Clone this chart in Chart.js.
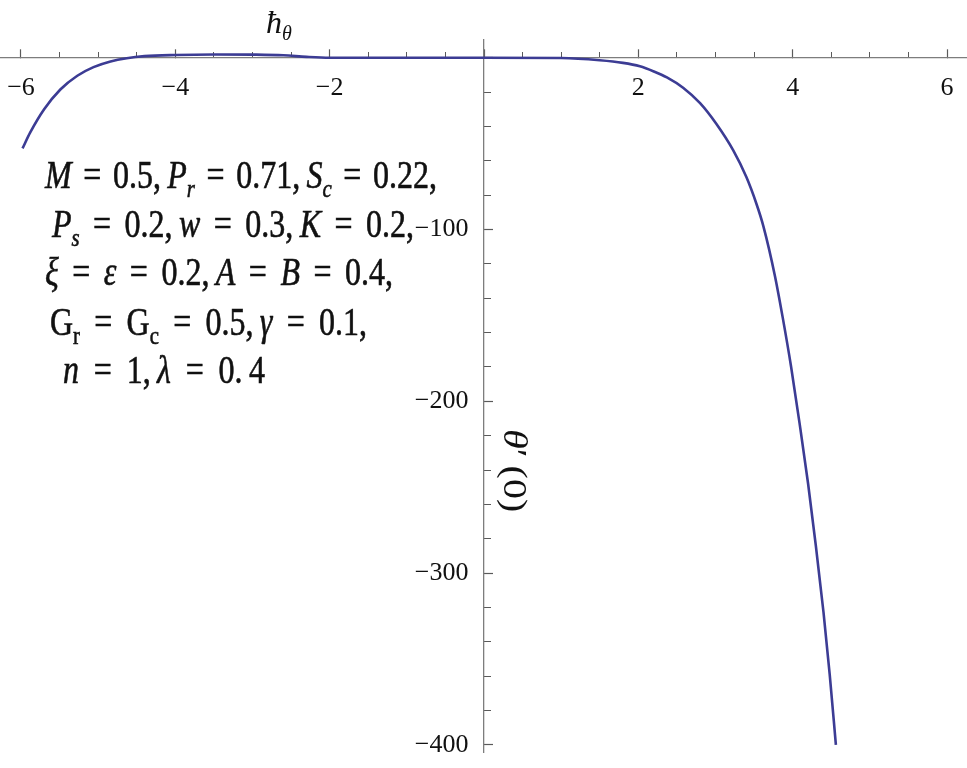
<!DOCTYPE html>
<html>
<head>
<meta charset="utf-8">
<title>θ′(0) against ħθ</title>
<script src="https://cdn.jsdelivr.net/npm/chart.js@4.4.1/dist/chart.umd.min.js"></script>
<style>
  html, body { margin: 0; padding: 0; background: #fff; }
  #wrap { width: 967px; height: 768px; position: relative; }
</style>
</head>
<body>
<div id="wrap"><canvas id="plot"></canvas></div>
<script>
// h-curve: convergence parameter on x, theta'(0) on y
const hTheta = [-5.98, -5.88, -5.70, -5.49, -5.27, -5.06, -4.84, -4.63, -4.40, -4.00, -3.50, -3.00, -2.60, -2.30, -2.00, -1.00, 0.00, 1.00, 1.50, 1.80, 2.02, 2.20, 2.37, 2.58, 2.80, 3.01, 3.23, 3.40, 3.53, 3.62, 3.77, 3.87, 3.98, 4.09, 4.20, 4.30, 4.40, 4.48, 4.56];
const thetaPrime0 = [-52.8, -43.5, -30.0, -18.5, -10.5, -5.5, -2.2, -0.3, 0.9, 1.6, 1.9, 1.8, 1.4, 0.5, 0.0, 0.0, 0.0, -0.2, -1.5, -3.0, -5.0, -8.0, -11.5, -17.5, -26.5, -38.5, -54, -69.5, -85, -98, -127, -151, -180, -213, -248, -284, -323, -359, -400];

// tick values (major ones get labels, 0 stays unlabelled)
const xMajor = [-6, -4, -2, 0, 2, 4, 6];
const xMinor = [-6, -5.5, -5, -4.5, -4, -3.5, -3, -2.5, -2, -1.5, -1, -0.5, 0, 0.5, 1, 1.5, 2, 2.5, 3, 3.5, 4, 4.5, 5, 5.5, 6];
const yMajor = [-400, -300, -200, -100, 0];
const yMinor = [-400, -380, -360, -340, -320, -300, -280, -260, -240, -220, -200, -180, -160, -140, -120, -100, -80, -60, -40, -20, 0];

const X_MIN = -6.272, X_MAX = 6.259;
const Y_MIN = -404.1, Y_MAX = 10.3;

const serif = "'Liberation Serif', 'DejaVu Serif', serif";
const axisGrey = '#7d7d7d';
const tickGrey = '#5a5a5a';

function fmt(v) {
  if (v === 0) return '';
  return v < 0 ? '\u2212' + Math.abs(v) : String(v);
}

// parameter block, runs of [text, style]: i italic, r roman, is / rs subscript
// plain spaces stretch to fill the line, thin spaces (after commas) do not
const T = '\u2009';
const noteLines = [
  [['M', 'i'], [' = 0.5,' + T, 'r'], ['P', 'i'], ['r', 'is'], [' = 0.71,' + T, 'r'], ['S', 'i'], ['c', 'is'], [' = 0.22,', 'r']],
  [['P', 'i'], ['s', 'is'], [' = 0.2,' + T, 'r'], ['w', 'i'], [' = 0.3,' + T, 'r'], ['K', 'i'], [' = 0.2,', 'r']],
  [['\u03be', 'i'], [' = ', 'r'], ['\u03b5', 'i'], [' = 0.2,' + T, 'r'], ['A', 'i'], [' = ', 'r'], ['B', 'i'], [' = 0.4,', 'r']],
  [['G', 'r'], ['r', 'rs'], [' = G', 'r'], ['c', 'rs'], [' = 0.5,' + T, 'r'], ['\u03b3', 'i'], [' = 0.1,', 'r']],
  [['n', 'i'], [' = 1,' + T, 'r'], ['\u03bb', 'i'], [' = 0.' + T + '4', 'r']]
];
const notePlace = [
  {x: 45, y: 188, w: 392},
  {x: 52, y: 237, w: 362},
  {x: 45, y: 285, w: 348},
  {x: 50, y: 335, w: 317},
  {x: 63, y: 383, w: 202}
];

function runFont(style, size) {
  const sub = style.length > 1;
  const px = sub ? Math.round(size * 0.64) : size;
  return (style[0] === 'i' ? 'italic ' : '') + px + 'px ' + serif;
}

// draws runs with glyphs squeezed by hs; plain spaces stretch so the line fills targetW
function drawRuns(ctx, runs, x, y, size, hs, targetW, bold) {
  let natural = 0, spaces = 0;
  runs.forEach(r => {
    ctx.font = runFont(r[1], size);
    natural += ctx.measureText(r[0]).width;
    spaces += r[0].split(' ').length - 1;
  });
  const extra = targetW && spaces ? (targetW / hs - natural) / spaces : 0;
  ctx.save();
  ctx.translate(x, y);
  ctx.scale(hs, 1);
  let cx = 0;
  runs.forEach(r => {
    ctx.font = runFont(r[1], size);
    const dy = r[1].length > 1 ? size * 0.22 : 0;
    const parts = r[0].split(' ');
    parts.forEach((p, k) => {
      if (k > 0) cx += ctx.measureText(' ').width + extra;
      if (!p) return;
      ctx.fillText(p, cx, dy);
      if (bold) ctx.strokeText(p, cx, dy);
      cx += ctx.measureText(p).width;
    });
  });
  ctx.restore();
}

const textPlugin = {
  id: 'textPlugin',
  afterDraw(chart) {
    const ctx = chart.ctx;
    ctx.save();
    ctx.fillStyle = '#111';
    ctx.strokeStyle = '#111';
    ctx.lineWidth = 0.6;
    ctx.textBaseline = 'alphabetic';
    ctx.textAlign = 'left';
    noteLines.forEach((runs, i) => {
      const p = notePlace[i];
      drawRuns(ctx, runs, p.x, p.y, 40, 0.8, p.w, true);
    });
    // horizontal axis title
    drawRuns(ctx, [['\u0127', 'i'], ['\u03b8', 'is']], 266, 33, 32, 1);
    // vertical axis title, turned clockwise
    ctx.translate(504, 429);
    ctx.rotate(Math.PI / 2);
    drawRuns(ctx, [['\u03b8', 'i'], ['\u2032\u2009(0)', 'r']], 0, 0, 34, 1.18);
    ctx.restore();
  }
};

const tickFont = {family: serif, size: 26};

function flatFit(s) {
  if (s.isHorizontal()) s.height = 0; else s.width = 0;
  s.paddingLeft = s.paddingRight = s.paddingTop = s.paddingBottom = 0;
}

new Chart(document.getElementById('plot'), {
  type: 'scatter',
  data: {
    datasets: [{
      data: hTheta.map((x, i) => ({x: x, y: thetaPrime0[i]})),
      showLine: true,
      borderColor: '#3c3c94',
      borderWidth: 2.6,
      pointRadius: 0,
      fill: false,
      cubicInterpolationMode: 'monotone'
    }]
  },
  options: {
    responsive: true,
    maintainAspectRatio: false,
    animation: false,
    events: [],
    layout: { padding: {top: 40, bottom: 16, left: 0, right: 0} },
    plugins: { legend: {display: false}, tooltip: {enabled: false} },
    scales: {
      x: {
        type: 'linear', axis: 'x', position: {y: 0}, bounds: 'data',
        min: X_MIN, max: X_MAX,
        afterBuildTicks: s => { s.ticks = xMajor.map(v => ({value: v})); },
        afterFit: flatFit,
        grid: {drawOnChartArea: false, tickLength: -9, tickColor: tickGrey, tickWidth: 1.2},
        border: {display: true, color: axisGrey, width: 1.3},
        ticks: {autoSkip: false, maxRotation: 0, padding: 24, font: tickFont, color: '#111', callback: fmt}
      },
      xMinor: {
        type: 'linear', axis: 'x', position: {y: 0}, bounds: 'data',
        min: X_MIN, max: X_MAX,
        afterBuildTicks: s => { s.ticks = xMinor.map(v => ({value: v})); },
        afterFit: flatFit,
        grid: {drawOnChartArea: false, tickLength: -6, tickColor: tickGrey, tickWidth: 1},
        border: {display: false},
        ticks: {display: false}
      },
      y: {
        type: 'linear', axis: 'y', position: {x: 0}, bounds: 'data',
        min: Y_MIN, max: Y_MAX,
        afterBuildTicks: s => { s.ticks = yMajor.map(v => ({value: v})); },
        afterFit: flatFit,
        grid: {drawOnChartArea: false, tickLength: -10, tickColor: tickGrey, tickWidth: 1.2},
        border: {display: true, color: axisGrey, width: 1.3},
        ticks: {autoSkip: false, font: tickFont, color: '#111',
                callback: v => v === 0 ? '' : fmt(v) + '\u2009\u2009\u2009'}
      },
      yMinor: {
        type: 'linear', axis: 'y', position: {x: 0}, bounds: 'data',
        min: Y_MIN, max: Y_MAX,
        afterBuildTicks: s => { s.ticks = yMinor.map(v => ({value: v})); },
        afterFit: flatFit,
        grid: {drawOnChartArea: false, tickLength: -7, tickColor: tickGrey, tickWidth: 1},
        border: {display: false},
        ticks: {display: false}
      }
    }
  },
  plugins: [textPlugin]
});
</script>
</body>
</html>
